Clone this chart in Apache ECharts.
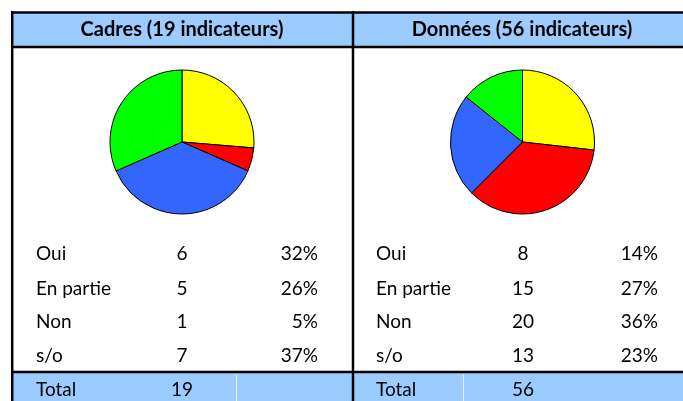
<!DOCTYPE html>
<html>
<head>
<meta charset="utf-8">
<script src="https://cdn.jsdelivr.net/npm/echarts@6/dist/echarts.min.js"></script>
<style>html,body{margin:0;padding:0;background:#fff;}#c{width:683px;height:401px;}</style>
</head>
<body>
<div id="c"></div>
<script>
var categories = ['Oui', 'En partie', 'Non', 's/o'];
var cadresValues = [6, 5, 1, 7];
var donneesValues = [8, 15, 20, 13];
var panelTitles = ['Cadres (19 indicateurs)', 'Données (56 indicateurs)'];
var totalLabel = 'Total';
var sliceColors = { 'Oui': '#00FF00', 'En partie': '#FFFF00', 'Non': '#FF0000', 's/o': '#3366FF' };
var pieOrder = [1, 2, 3, 0];

var chart = echarts.init(document.getElementById('c'), null, { renderer: 'canvas' });
var FONT = 'Lato, "Open Sans", sans-serif';
var BLUE = '#9CCBFF';
var INK = '#000';

function sum(a) { return a.reduce(function (s, v) { return s + v; }, 0); }
function pieData(vals) {
  return pieOrder.map(function (i) {
    return { name: categories[i], value: vals[i], itemStyle: { color: sliceColors[categories[i]] } };
  });
}

var graphics = [];
graphics.push({ type: 'rect', shape: { x: 12, y: 12, width: 671, height: 35 }, style: { fill: BLUE }, silent: true });
graphics.push({ type: 'rect', shape: { x: 12, y: 372, width: 671, height: 29 }, style: { fill: BLUE }, silent: true });
[236, 463].forEach(function (x) {
  graphics.push({ type: 'line', shape: { x1: x + 0.5, y1: 375, x2: x + 0.5, y2: 401 }, style: { stroke: '#E6F2FF', lineWidth: 1 }, silent: true });
});
function hline(y, x1, x2) { graphics.push({ type: 'line', shape: { x1: x1, y1: y, x2: x2, y2: y }, style: { stroke: '#000', lineWidth: 2.5 }, silent: true }); }
function vline(x, y1, y2) { graphics.push({ type: 'line', shape: { x1: x, y1: y1, x2: x, y2: y2 }, style: { stroke: '#000', lineWidth: 2.5 }, silent: true }); }
hline(12.5, 11, 683);
hline(47, 11, 683);
hline(372, 11, 683);
vline(12.2, 11, 401);
vline(353, 11, 401);

var panels = [
  { title: panelTitles[0], vals: cadresValues, xc: 182, xl: 36, xn: 182, xp: 318 },
  { title: panelTitles[1], vals: donneesValues, xc: 522, xl: 376, xn: 523, xp: 658 }
];
var rowY = [254, 288.5, 322, 355.5];
panels.forEach(function (p) {
  graphics.push({ type: 'text', x: p.xc, y: 30, style: { text: p.title, font: 'bold 20px ' + FONT, fill: INK, align: 'center', verticalAlign: 'middle' }, silent: true });
  var tot = sum(p.vals);
  categories.forEach(function (c, i) {
    var y = rowY[i];
    graphics.push({ type: 'text', x: p.xl, y: y, style: { text: c, font: '19px ' + FONT, fill: INK, align: 'left', verticalAlign: 'middle' }, silent: true });
    graphics.push({ type: 'text', x: p.xn, y: y, style: { text: String(p.vals[i]), font: '19px ' + FONT, fill: INK, align: 'center', verticalAlign: 'middle' }, silent: true });
    graphics.push({ type: 'text', x: p.xp, y: y, style: { text: Math.round(p.vals[i] / tot * 100) + '%', font: '19px ' + FONT, fill: INK, align: 'right', verticalAlign: 'middle' }, silent: true });
  });
  graphics.push({ type: 'text', x: p.xl, y: 390, style: { text: totalLabel, font: '19px ' + FONT, fill: INK, align: 'left', verticalAlign: 'middle' }, silent: true });
  graphics.push({ type: 'text', x: p.xn, y: 390, style: { text: String(tot), font: '19px ' + FONT, fill: INK, align: 'center', verticalAlign: 'middle' }, silent: true });
});

function pieSeries(vals, cx) {
  return {
    type: 'pie', center: [cx, 142], radius: 72, startAngle: 90, clockwise: true,
    label: { show: false }, labelLine: { show: false }, animation: false, silent: true,
    itemStyle: { borderColor: '#000', borderWidth: 1 },
    emphasis: { disabled: true },
    data: pieData(vals)
  };
}

chart.setOption({
  animation: false,
  graphic: { elements: graphics },
  series: [pieSeries(cadresValues, 182), pieSeries(donneesValues, 522.5)]
});
</script>
</body>
</html>
